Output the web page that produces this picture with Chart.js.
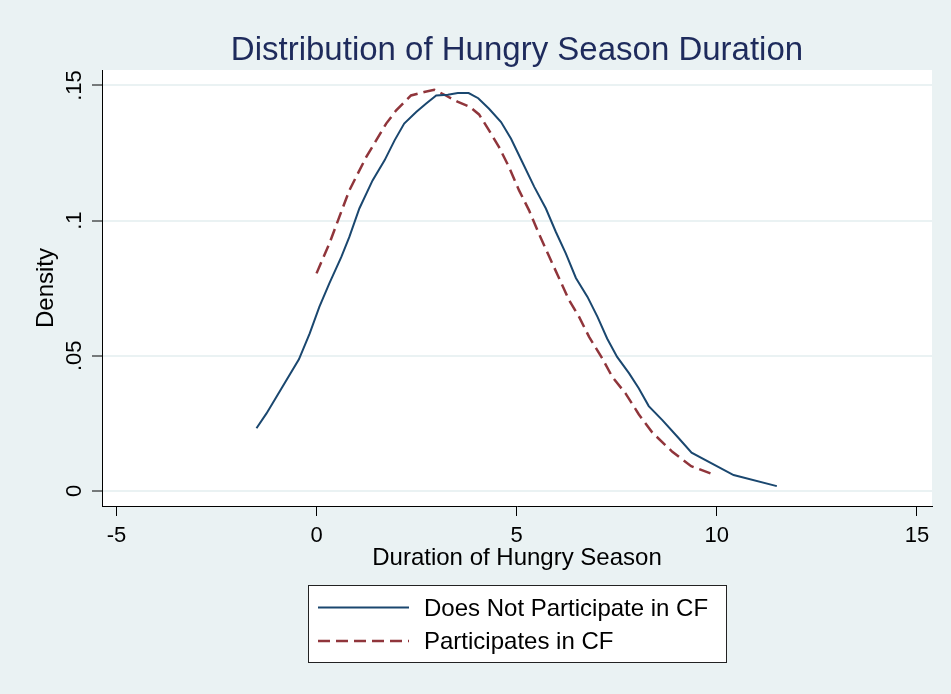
<!DOCTYPE html>
<html><head><meta charset="utf-8">
<script src="https://cdn.jsdelivr.net/npm/chart.js@4"></script>
<style>html,body{margin:0;padding:0;background:#EAF2F3;} canvas{display:block;}</style>
</head><body>
<canvas id="c" width="951" height="694"></canvas>
<script>
const titleText = 'Distribution of Hungry Season Duration';
const xTitle = 'Duration of Hungry Season';
const yTitle = 'Density';
const seriesNames = ['Does Not Participate in CF', 'Participates in CF'];
const xTicks = [-5, 0, 5, 10, 15];
const yTicks = [0, 0.05, 0.1, 0.15];

const noCfX = [-1.50,-1.25,-0.44,-0.17,0.07,0.32,0.62,0.82,1.07,1.40,1.70,1.95,2.19,2.49,2.74,2.99,3.28,3.53,3.80,4.04,4.31,4.61,4.86,5.14,5.44,5.73,5.98,6.23,6.48,6.77,7.02,7.26,7.51,7.81,8.05,8.30,8.64,9.05,9.37,10.42,11.50];
const noCfY = [.0232,.0287,.0487,.0583,.0681,.0768,.0866,.0940,.1045,.1149,.1223,.1297,.1359,.1402,.1433,.1463,.1466,.1472,.1472,.1453,.1414,.1365,.1303,.1217,.1125,.1045,.0958,.0878,.0788,.0718,.0644,.0564,.0496,.0435,.0380,.0314,.0262,.0195,.0142,.0059,.0018];

const cfX = [0.00,0.32,0.57,0.82,0.99,1.24,1.49,1.74,1.99,2.36,2.69,2.94,3.23,3.52,3.82,4.06,4.31,4.56,4.81,5.06,5.31,5.56,5.81,6.02,6.31,6.56,6.81,7.14,7.39,7.72,8.05,8.39,8.89,9.36,9.95];
const cfY = [.0805,.0915,.1014,.1112,.1162,.1235,.1297,.1359,.1408,.1463,.1476,.1484,.1463,.1440,.1422,.1393,.1334,.1272,.1198,.1112,.1038,.0950,.0868,.0800,.0706,.0644,.0570,.0490,.0422,.0361,.0284,.0216,.0145,.0092,.0059];

const FONT = '"Liberation Sans", Arial, Helvetica, sans-serif';
Chart.defaults.font.family = FONT;

const decor = {
  id: 'decor',
  beforeDraw(chart) {
    const {ctx, chartArea: a} = chart;
    ctx.save();
    ctx.fillStyle = '#EAF2F3';
    ctx.fillRect(0, 0, chart.width, chart.height);
    ctx.fillStyle = '#ffffff';
    ctx.fillRect(a.left, a.top, a.right - a.left, a.bottom - a.top);
    ctx.restore();
  },
  afterDraw(chart) {
    const {ctx, chartArea: a} = chart;
    const cx = (a.left + a.right) / 2;
    ctx.save();
    ctx.font = '33px ' + FONT;
    ctx.fillStyle = '#1e2b5c';
    ctx.textAlign = 'center';
    ctx.textBaseline = 'alphabetic';
    ctx.fillText(titleText, cx, 60);
    // legend
    const lw = 418, lh = 77;
    const lx = Math.round(cx - lw / 2), ly = 585;
    ctx.fillStyle = '#ffffff';
    ctx.fillRect(lx, ly, lw, lh);
    ctx.strokeStyle = '#222';
    ctx.lineWidth = 1;
    ctx.strokeRect(lx + 0.5, ly + 0.5, lw, lh);
    chart.data.datasets.forEach((ds, i) => {
      const y = 607.5 + i * 33.5;
      ctx.strokeStyle = ds.borderColor;
      ctx.lineWidth = ds.borderWidth;
      ctx.setLineDash(ds.borderDash || []);
      ctx.beginPath();
      ctx.moveTo(lx + 10, y);
      ctx.lineTo(lx + 101, y);
      ctx.stroke();
      ctx.setLineDash([]);
      ctx.fillStyle = '#000';
      ctx.font = '24px ' + FONT;
      ctx.textAlign = 'left';
      ctx.fillText(ds.label, lx + 116, y + 8);
    });
    ctx.restore();
  }
};

new Chart(document.getElementById('c'), {
  type: 'line',
  data: {
    datasets: [
      { label: seriesNames[0], data: noCfX.map((x, i) => ({x, y: noCfY[i]})), borderColor: '#1a476f', borderWidth: 2, pointRadius: 0, tension: 0, fill: false },
      { label: seriesNames[1], data: cfX.map((x, i) => ({x, y: cfY[i]})), borderColor: '#90353b', borderWidth: 2.5, borderDash: [12, 6], pointRadius: 0, tension: 0, fill: false }
    ]
  },
  options: {
    responsive: false,
    animation: false,
    devicePixelRatio: 1,
    layout: { padding: { left: 0, right: 19, top: 70, bottom: 114 } },
    plugins: { legend: { display: false }, title: { display: false }, tooltip: { enabled: false } },
    scales: {
      x: {
        type: 'linear', min: -5.36, max: 15.377,
        afterBuildTicks: s => { s.ticks = xTicks.map(v => ({value: v})); },
        grid: { drawOnChartArea: false, drawTicks: true, tickLength: 10, tickColor: '#000', tickWidth: 1 },
        border: { display: true, color: '#000', width: 1 },
        ticks: { font: { size: 22 }, color: '#000', padding: 7, minRotation: 0, maxRotation: 0, autoSkip: false, callback: v => String(v) },
        title: { display: true, text: xTitle, font: { size: 24 }, color: '#000', padding: { top: 0, bottom: 7 } },
        afterFit: s => { s.height = 74; }
      },
      y: {
        type: 'linear', min: -0.00555, max: 0.15573,
        afterBuildTicks: s => { s.ticks = yTicks.map(v => ({value: v})); },
        grid: { color: '#EAF2F3', lineWidth: 2, drawTicks: true, tickLength: 10, tickColor: '#000', tickWidth: 1 },
        border: { display: true, color: '#000', width: 1 },
        ticks: { font: { size: 22 }, color: '#000', padding: 2, minRotation: 90, maxRotation: 90, crossAlign: 'center', autoSkip: false,
          callback: v => v === 0 ? '0' : String(+v.toFixed(2)).replace(/^0\./, '.') },
        title: { display: true, text: yTitle, font: { size: 24 }, color: '#000', padding: { top: 32, bottom: 0 } },
        afterFit: s => { s.width = 102; }
      }
    }
  },
  plugins: [decor]
});
</script>
</body></html>
